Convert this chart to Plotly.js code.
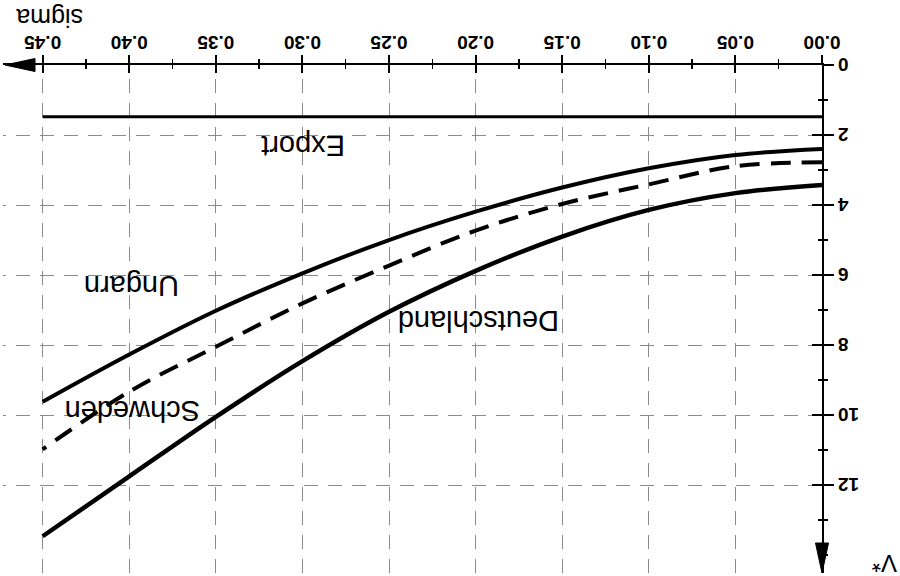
<!DOCTYPE html>
<html>
<head>
<meta charset="utf-8">
<script src="https://cdn.plot.ly/plotly-3.0.1.min.js"></script>
<style>
  html, body { margin: 0; padding: 0; background: #fff; overflow: hidden; }
  #chart { width: 900px; height: 576px; transform: rotate(180deg); transform-origin: 50% 50%; }
</style>
</head>
<body>
<div id="chart"></div>
<script>
// ---- data read from the (upside-down) reference ----
const sigma       = [0.00, 0.05, 0.10, 0.15, 0.20, 0.25, 0.30, 0.35, 0.40, 0.45];
const ungarn      = [2.40, 2.57, 2.95, 3.50, 4.19, 5.00, 5.95, 7.02, 8.27, 9.62];
const schweden    = [2.78, 2.89, 3.41, 3.97, 4.73, 5.73, 6.81, 8.05, 9.33, 10.98];
const deutschland = [3.43, 3.66, 4.14, 4.90, 5.88, 7.05, 8.46, 10.05, 11.75, 13.46];
const exportV     = [1.48, 1.48, 1.48, 1.48, 1.48, 1.48, 1.48, 1.48, 1.48, 1.48];

const xTickVals = [0.00, 0.05, 0.10, 0.15, 0.20, 0.25, 0.30, 0.35, 0.40, 0.45];
const yTickVals = [0, 2, 4, 6, 8, 10, 12];

const curveLabels = ['Export', 'Ungarn', 'Deutschland', 'Schweden'];
const labelX = [0.2997, 0.3986, 0.1986, 0.3984];
const labelY = [2.31, 6.31, 7.31, 9.89];

// ---- geometry ----
const W = 900, H = 576;
const M = {l: 78, r: 3, t: 3, b: 65};
const plotW = W - M.l - M.r, plotH = H - M.t - M.b;
const xMax = 0.4729, yMax = 14.51;

const FONT = 'Liberation Sans, Arial, sans-serif';
const lineCol = '#000';

function curve(y, dash, width) {
  return {x: sigma, y: y, type: 'scatter', mode: 'lines',
    line: {color: lineCol, width: width, dash: dash, shape: 'spline', smoothing: 1.0},
    hoverinfo: 'skip', showlegend: false, cliponaxis: false};
}

const traces = [
  curve(exportV, 'solid', 3),
  curve(ungarn, 'solid', 4),
  curve(schweden, '20px,11px', 4),
  curve(deutschland, 'solid', 4.5),
  {x: [], y: [], xaxis: 'x2', yaxis: 'y2', type: 'scatter', mode: 'lines', showlegend: false, hoverinfo: 'skip'}
];

// arrow heads (decoration) in paper coordinates
const arrLen = 30, arrHalf = 6.5;
const xTip = (895 - M.l) / plotW, xBase = (895 - arrLen - M.l) / plotW, xHalfH = arrHalf / plotH;
const yTip = 1.0, yBase = 1.0 - arrLen / plotH, yHalfW = arrHalf / plotW;

const shapes = [
  {type: 'path', xref: 'paper', yref: 'paper', fillcolor: '#000', line: {color: '#000', width: 1},
   path: `M ${xTip} 0 L ${xBase} ${xHalfH} L ${xBase} ${-xHalfH} Z`},
  {type: 'line', xref: 'paper', yref: 'paper', x0: 0.99, x1: xBase + 0.001, y0: 0, y1: 0, line: {color: '#000', width: 2}},
  {type: 'path', xref: 'paper', yref: 'paper', fillcolor: '#000', line: {color: '#000', width: 1},
   path: `M 0 ${yTip} L ${yHalfW} ${yBase} L ${-yHalfW} ${yBase} Z`}
];

const annotations = curveLabels.map((t, i) => ({
  text: t, x: labelX[i], y: labelY[i], xref: 'x', yref: 'y', showarrow: false,
  font: {family: FONT, size: 29, color: '#000'}, xanchor: 'center', yanchor: 'middle'
}));
annotations.push({text: 'V*', xref: 'paper', yref: 'paper', x: (15 - M.l) / plotW, y: (H - M.b - 13) / plotH,
  showarrow: false, font: {family: FONT, size: 24, color: '#000'}, xanchor: 'center', yanchor: 'middle'});
annotations.push({text: 'sigma', xref: 'paper', yref: 'paper', x: (850 - M.l) / plotW, y: (H - M.b - 558) / plotH,
  showarrow: false, font: {family: FONT, size: 25, color: '#000'}, xanchor: 'center', yanchor: 'middle'});

const gridCol = '#8a8a8a';
const tickFont = {family: FONT, size: 19, color: '#000', weight: 'bold'};

const layout = {
  width: W, height: H, margin: M,
  paper_bgcolor: '#fff', plot_bgcolor: '#fff',
  showlegend: false,
  font: {family: FONT, color: '#000'},
  xaxis: {
    range: [0, xMax], showline: true, linecolor: '#000', linewidth: 2, zeroline: false,
    tickmode: 'array', tickvals: xTickVals, tickformat: '.2f',
    ticks: 'outside', ticklen: 8, tickwidth: 2, tickcolor: '#000', ticklabelstandoff: -4,
    tickfont: tickFont,
    showgrid: true, gridcolor: gridCol, gridwidth: 1, griddash: '14px,10px',
    minor: {dtick: 0.025, tick0: 0, ticks: 'outside', ticklen: 4, tickwidth: 1.5, tickcolor: '#000', showgrid: false},
    fixedrange: true
  },
  yaxis: {
    range: [0, yMax], showline: true, linecolor: '#000', linewidth: 2, zeroline: false,
    tickmode: 'array', tickvals: yTickVals,
    ticks: 'outside', ticklen: 10, tickwidth: 2, tickcolor: '#000',
    tickfont: tickFont,
    showgrid: true, gridcolor: gridCol, gridwidth: 1, griddash: '14px,10px',
    minor: {dtick: 1, tick0: 0, ticks: 'outside', ticklen: 4, tickwidth: 1.5, tickcolor: '#000', showgrid: false},
    fixedrange: true
  },
  xaxis2: {
    overlaying: 'x', anchor: 'y', side: 'bottom', range: [0, xMax],
    tickmode: 'array', tickvals: xTickVals, showticklabels: false,
    ticks: 'inside', ticklen: 8, tickwidth: 2, tickcolor: '#000',
    showgrid: false, zeroline: false, showline: false,
    minor: {dtick: 0.025, tick0: 0, ticks: 'inside', ticklen: 4, tickwidth: 1.5, tickcolor: '#000', showgrid: false},
    fixedrange: true
  },
  yaxis2: {
    overlaying: 'y', anchor: 'x', side: 'left', range: [0, yMax],
    tickmode: 'array', tickvals: yTickVals, showticklabels: false,
    ticks: 'inside', ticklen: 10, tickwidth: 2, tickcolor: '#000',
    showgrid: false, zeroline: false, showline: false,
    minor: {dtick: 1, tick0: 0, ticks: 'inside', ticklen: 4, tickwidth: 1.5, tickcolor: '#000', showgrid: false},
    fixedrange: true
  },
  shapes: shapes,
  annotations: annotations
};

Plotly.newPlot('chart', traces, layout, {staticPlot: true, displayModeBar: false});
</script>
</body>
</html>
